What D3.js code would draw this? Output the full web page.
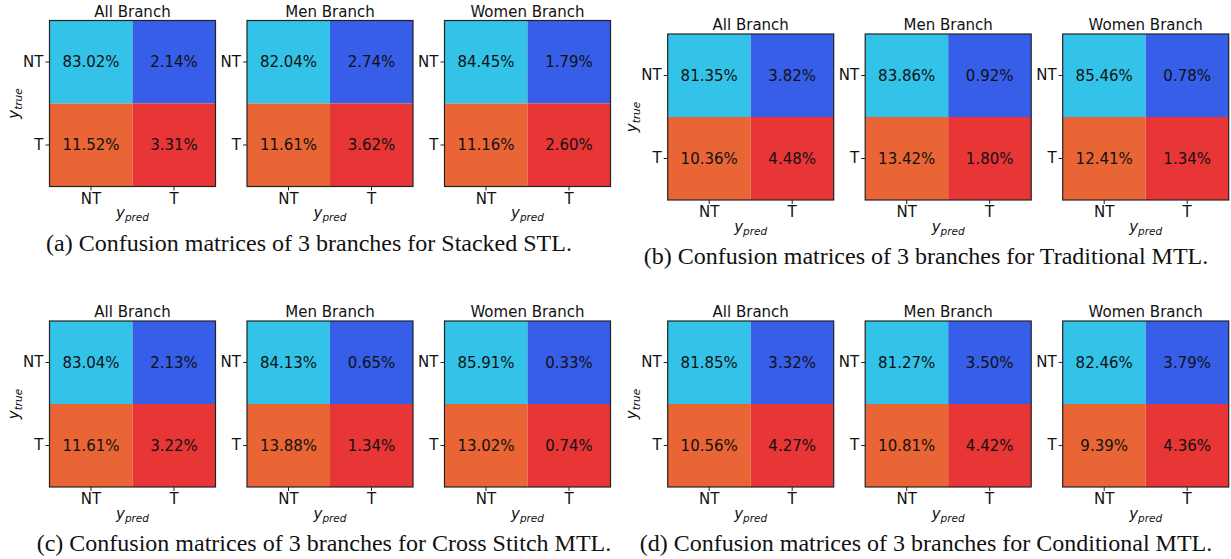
<!DOCTYPE html>
<html>
<head>
<meta charset="utf-8">
<script src="https://cdn.jsdelivr.net/npm/d3@7"></script>
<style>
  body { margin: 0; background: #fff; }
  svg { display: block; }
</style>
</head>
<body>
<svg id="svg"></svg>
<script>
// class labels and branch names
const classes = ["NT", "T"];
const branches = ["All Branch", "Men Branch", "Women Branch"];

const captions = [
    "(a) Confusion matrices of 3 branches for Stacked STL.",
    "(b) Confusion matrices of 3 branches for Traditional MTL.",
    "(c) Confusion matrices of 3 branches for Cross Stitch MTL.",
    "(d) Confusion matrices of 3 branches for Conditional MTL."
];

// percentages per branch, order: [NT/NT, NT/T, T/NT, T/T]  (true/pred)
const stackedSTL = [
    [83.02, 2.14, 11.52, 3.31],
    [82.04, 2.74, 11.61, 3.62],
    [84.45, 1.79, 11.16, 2.60]
];
const traditionalMTL = [
    [81.35, 3.82, 10.36, 4.48],
    [83.86, 0.92, 13.42, 1.80],
    [85.46, 0.78, 12.41, 1.34]
];
const crossStitchMTL = [
    [83.04, 2.13, 11.61, 3.22],
    [84.13, 0.65, 13.88, 1.34],
    [85.91, 0.33, 13.02, 0.74]
];
const conditionalMTL = [
    [81.85, 3.32, 10.56, 4.27],
    [81.27, 3.50, 10.81, 4.42],
    [82.46, 3.79, 9.39, 4.36]
];

const cellColours = ["#33c3e9", "#365ee9", "#e96535", "#e83536"];

const width = 1231;
const height = 559;
const size = 166;      // matrix side
const step = 197.5;    // distance between matrices

const panels = [
    { data: stackedSTL,     caption: captions[0], left: 49.5,  top: 20.5, capX: 309, capY: 251 },
    { data: traditionalMTL, caption: captions[1], left: 667.7, top: 34,   capX: 926, capY: 264 },
    { data: crossStitchMTL, caption: captions[2], left: 49.5,  top: 321,  capX: 324, capY: 551 },
    { data: conditionalMTL, caption: captions[3], left: 667.7, top: 321,  capX: 926, capY: 551 }
];

let svg = d3.select("#svg")
    .attr("width", width)
    .attr("height", height);

const font = "'DejaVu Sans', sans-serif";

const xScale = d3.scaleBand().domain(classes).range([0, size]);
const yScale = d3.scaleBand().domain(classes).range([0, size]);

function drawMatrix(parent, values, title) {
    let cells = [];
    classes.forEach((t, r) => {
        classes.forEach((p, c) => {
            cells.push({ t: t, p: p, k: r * 2 + c, v: values[r * 2 + c] });
        });
    });

    parent.selectAll(".cell")
        .data(cells)
        .enter()
        .append("rect")
        .attr("class", "cell")
        .attr("x", d => xScale(d.p))
        .attr("y", d => yScale(d.t))
        .attr("width", xScale.bandwidth())
        .attr("height", yScale.bandwidth())
        .attr("fill", d => cellColours[d.k]);

    parent.selectAll(".val")
        .data(cells)
        .enter()
        .append("text")
        .attr("class", "val")
        .attr("x", d => xScale(d.p) + xScale.bandwidth() / 2)
        .attr("y", d => yScale(d.t) + yScale.bandwidth() / 2)
        .attr("dy", "0.36em")
        .attr("text-anchor", "middle")
        .style("font-family", font)
        .style("font-size", "15px")
        .attr("fill", "#111")
        .text(d => d.v.toFixed(2) + "%");

    // frame
    parent.append("rect")
        .attr("width", size)
        .attr("height", size)
        .attr("fill", "none")
        .attr("stroke", "#222")
        .attr("stroke-width", 1.2);

    let xAxis = parent.append("g")
        .attr("transform", `translate(0,${size})`)
        .call(d3.axisBottom(xScale).tickSize(4).tickPadding(2.5));
    let yAxis = parent.append("g")
        .call(d3.axisLeft(yScale).tickSize(4).tickPadding(2));

    [xAxis, yAxis].forEach(a => {
        a.select(".domain").remove();
        a.selectAll("line").attr("stroke", "#222").attr("stroke-width", 1);
        a.selectAll("text")
            .style("font-family", font)
            .style("font-size", "15px")
            .attr("fill", "#111");
    });

    parent.append("text")
        .attr("x", size / 2)
        .attr("y", -4)
        .attr("text-anchor", "middle")
        .style("font-family", font)
        .style("font-size", "15px")
        .attr("fill", "#111")
        .text(title);

    // y_pred label
    let xl = parent.append("text")
        .attr("x", size / 2)
        .attr("y", size + 31.5)
        .attr("text-anchor", "middle")
        .style("font-family", font)
        .style("font-style", "italic")
        .attr("fill", "#111");
    xl.append("tspan").style("font-size", "15px").text("y");
    xl.append("tspan").style("font-size", "10.5px").attr("dy", 3).text("pred");
}

panels.forEach(panel => {
    let g = svg.append("g")
        .attr("transform", `translate(${panel.left},${panel.top})`);

    panel.data.forEach((values, i) => {
        let m = g.append("g").attr("transform", `translate(${i * step},0)`);
        drawMatrix(m, values, branches[i]);
    });

    // y_true label, only once per panel
    let yl = g.append("text")
        .attr("transform", `translate(-31,${size / 2}) rotate(-90)`)
        .attr("text-anchor", "middle")
        .style("font-family", font)
        .style("font-style", "italic")
        .attr("fill", "#111");
    yl.append("tspan").style("font-size", "15px").text("y");
    yl.append("tspan").style("font-size", "10.5px").attr("dy", 3).text("true");

    svg.append("text")
        .attr("x", panel.capX)
        .attr("y", panel.capY)
        .attr("text-anchor", "middle")
        .style("font-family", "'Liberation Serif', 'Times New Roman', serif")
        .style("font-size", "24px")
        .attr("fill", "#111")
        .text(panel.caption);
});
</script>
</body>
</html>
